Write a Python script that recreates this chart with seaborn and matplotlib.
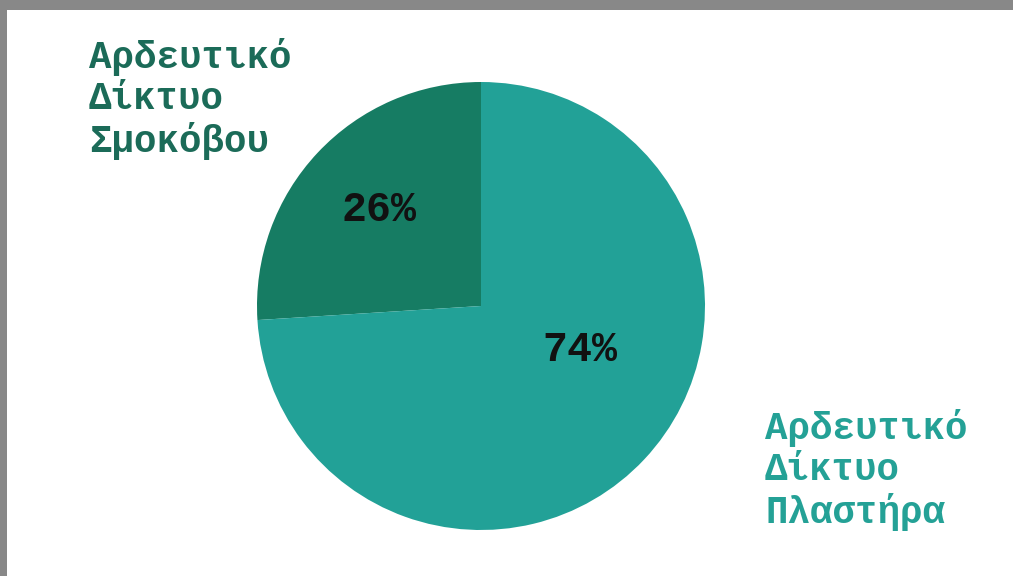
import matplotlib
matplotlib.use("Agg")
import matplotlib.pyplot as plt
import seaborn as sns
from matplotlib.patches import Rectangle

sns.set_theme(style="white")
plt.rcParams['font.family'] = ['Liberation Mono', 'DejaVu Sans Mono']

# Data
categories = ["Αρδευτικό\nΔίκτυο\nΣμοκόβου", "Αρδευτικό\nΔίκτυο\nΠλαστήρα"]
values = [26, 74]
slice_colors = ["#167C63", "#22A197"]
label_colors = ["#1B6B58", "#24A196"]

W, H = 1013, 576
fig = plt.figure(figsize=(W / 100, H / 100), dpi=100)
fig.patch.set_facecolor("#888888")
bg = Rectangle((7 / W, 0), 1 - 7 / W, (H - 10) / H,
               transform=fig.transFigure, facecolor="white",
               edgecolor="none", zorder=-10)
fig.patches.append(bg)

cx, cy, r = 481, 306, 224
ax = fig.add_axes([(cx - r) / W, (H - cy - r) / H, 2 * r / W, 2 * r / H])
ax.set_zorder(5)
ax.set_facecolor("none")

wedges, texts, autotexts = ax.pie(
    values, colors=slice_colors, startangle=90, counterclock=True,
    autopct=lambda p: f"{p:.0f}%", pctdistance=0.6,
    wedgeprops=dict(linewidth=0),
    textprops=dict(fontsize=30, fontweight="semibold", color="#111111"))
ax.set_xlim(-1, 1)
ax.set_ylim(-1, 1)

autotexts[0].set_position((-0.455, 0.43))
autotexts[1].set_position((0.44, -0.195))

# Category labels
fig.text(89 / W, 1 - 38 / H, categories[0], ha="left", va="top",
         fontsize=27, fontweight="bold", color=label_colors[0],
         linespacing=1.18, zorder=6)
fig.text(765 / W, 1 - 409 / H, categories[1], ha="left", va="top",
         fontsize=27, fontweight="bold", color=label_colors[1],
         linespacing=1.18, zorder=6)

fig.savefig("out.png", dpi=100, facecolor=fig.get_facecolor())
